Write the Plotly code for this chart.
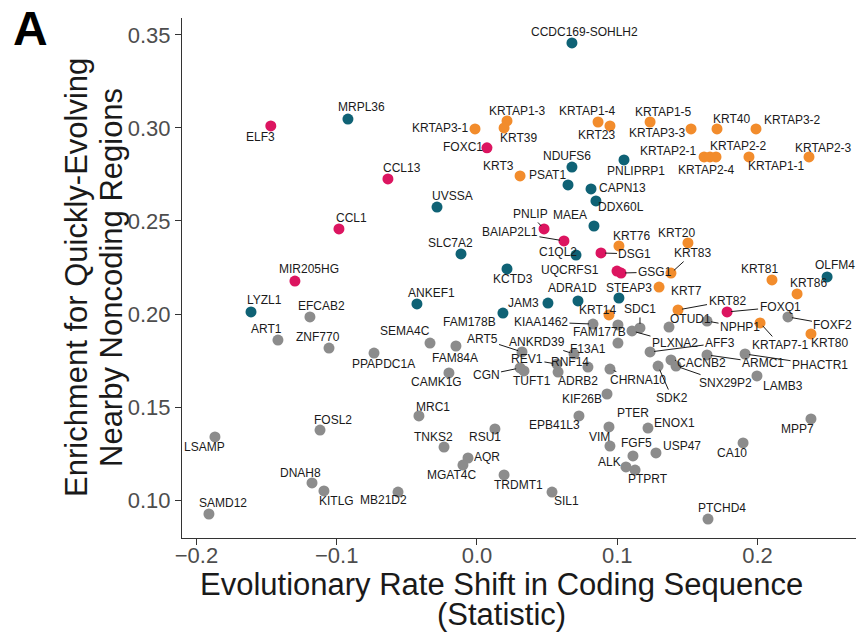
import plotly.graph_objects as go

# ---------------- data ----------------
genes_pink = ["ELF3", "CCL13", "CCL1", "MIR205HG", "FOXC1", "PNLIP", "BAIAP2L1",
              "DSG1", "UQCRFS1", "GSG1", "FOXQ1"]
x_pink = [-0.147, -0.0635, -0.0984, -0.1298, 0.0071, 0.0478, 0.0620,
          0.0884, 0.0998, 0.1027, 0.1783]
y_pink = [0.3011, 0.2726, 0.2457, 0.2177, 0.2893, 0.2457, 0.2393,
          0.2328, 0.2231, 0.2220, 0.2011]

genes_teal = ["MRPL36", "CCDC169-SOHLH2", "NDUFS6", "PNLIPRP1", "PSAT1", "CAPN13",
              "DDX60L", "UVSSA", "MAEA", "C1QL2", "SLC7A2", "KCTD3", "ANKEF1",
              "JAM3", "ADRA1D", "STEAP3", "FAM178B", "LYZL1", "OLFM4"]
x_teal = [-0.0920, 0.0677, 0.0677, 0.1048, 0.0649, 0.0813,
          0.0848, -0.0285, 0.0834, 0.0706, -0.0114, 0.0214, -0.0428,
          0.0506, 0.0720, 0.1012, 0.0185, -0.1611, 0.2496]
y_teal = [0.3048, 0.3457, 0.2790, 0.2828, 0.2694, 0.2672,
          0.2608, 0.2575, 0.2473, 0.2317, 0.2323, 0.2242, 0.2054,
          0.2059, 0.2070, 0.2086, 0.2005, 0.2011, 0.2199]

genes_orange = ["KRTAP3-1", "KRTAP1-3", "KRT39", "KRTAP1-4", "KRT23", "KRT3",
                "KRTAP1-5", "KRTAP3-3", "KRT40", "KRTAP3-2", "KRTAP2-1", "KRTAP2-4",
                "KRTAP2-2", "KRTAP1-1", "KRTAP2-3", "KRT20", "KRT76", "KRT83",
                "KRT81", "KRT86", "KRT7", "KRT14", "KRT82", "KRTAP7-1", "KRT80"]
x_orange = [-0.0014, 0.0214, 0.0193, 0.0863, 0.0948, 0.0307,
            0.1234, 0.1526, 0.1711, 0.1989, 0.1619, 0.1661,
            0.1704, 0.1939, 0.2367, 0.1504, 0.1012, 0.1383,
            0.2103, 0.2282, 0.1298, 0.0941, 0.1433, 0.2018, 0.2381]
y_orange = [0.2995, 0.3038, 0.3000, 0.3032, 0.3011, 0.2742,
            0.3032, 0.2995, 0.2995, 0.2995, 0.2844, 0.2844,
            0.2844, 0.2844, 0.2844, 0.2382, 0.2366, 0.2220,
            0.2183, 0.2108, 0.2145, 0.1995, 0.2022, 0.1952, 0.1893]

genes_gray = ["EFCAB2", "ART1", "ZNF770", "PPAPDC1A", "SEMA4C", "FAM84A", "CAMK1G",
              "MRC1", "FOSL2", "LSAMP", "DNAH8", "KITLG", "SAMD12", "MB21D2",
              "TNKS2", "RSU1", "AQR", "MGAT4C", "TRDMT1", "SIL1", "ART5", "ANKRD39",
              "REV1", "RNF14", "CGN", "TUFT1", "ADRB2", "CHRNA10", "F13A1",
              "KIAA1462", "FAM177B", "SDC1", "PLXNA2", "OTUD1", "NPHP1", "AFF3",
              "CACNB2", "ARMC1", "PHACTR1", "SNX29P2", "SDK2", "LAMB3", "KIF26B",
              "EPB41L3", "PTER", "VIM", "ENOX1", "FGF5", "USP47", "ALK", "PTPRT",
              "CA10", "MPP7", "PTCHD4", "FOXF2"]
x_gray = [-0.1191, -0.1419, -0.1055, -0.0734, -0.0335, -0.0150, -0.0200,
          -0.0414, -0.1119, -0.1868, -0.1176, -0.1091, -0.1911, -0.0563,
          -0.0235, 0.0128, -0.0064, -0.0100, 0.0193, 0.0535, 0.0321, 0.0692,
          0.0570, 0.0791, 0.0307, 0.0335, 0.0578, 0.0948, 0.1005,
          0.0827, 0.1005, 0.1162, 0.1105, 0.1369, 0.1640, 0.1234,
          0.1383, 0.1640, 0.1911, 0.1419, 0.1291, 0.1996, 0.0927,
          0.0727, 0.0941, 0.0948, 0.1219, 0.1112, 0.1276, 0.1062, 0.1127,
          0.1897, 0.2381, 0.1647, 0.2217]
y_gray = [0.1984, 0.1860, 0.1817, 0.1790, 0.1844, 0.1828, 0.1683,
          0.1452, 0.1376, 0.1339, 0.1092, 0.1049, 0.0925, 0.1043,
          0.1285, 0.1382, 0.1226, 0.1188, 0.1135, 0.1043, 0.1796, 0.1785,
          0.1731, 0.1715, 0.1710, 0.1694, 0.1688, 0.1704, 0.1844,
          0.1946, 0.1941, 0.1925, 0.1909, 0.1930, 0.1962, 0.1796,
          0.1753, 0.1780, 0.1785, 0.1720, 0.1720, 0.1667, 0.1570,
          0.1452, 0.1393, 0.1290, 0.1387, 0.1237, 0.1253, 0.1178, 0.1161,
          0.1307, 0.1436, 0.0898, 0.1984]

x_ticks = [-0.2, -0.1, 0.0, 0.1, 0.2]
y_ticks = [0.10, 0.15, 0.20, 0.25, 0.30, 0.35]

x_title = "Evolutionary Rate Shift in Coding Sequence"
x_title2 = "(Statistic)"
y_title = "Enrichment for Quickly-Evolving"
y_title2 = "Nearby Noncoding Regions"
panel_label = "A"

# ---------------- label placement (pixel offsets, segment flag) ----------------
label_offsets = {
    "ELF3": (-10, 11, 0), "CCL13": (14, -11, 0), "CCL1": (13, -11, 0),
    "MIR205HG": (14, -12, 0), "FOXC1": (-24, -1, 0), "PNLIP": (-14, -15, 1),
    "BAIAP2L1": (-54, -9, 1), "DSG1": (34, 1, 1), "UQCRFS1": (-47, -1, 0),
    "GSG1": (34, -1, 1), "FOXQ1": (53, -5, 1),
    "MRPL36": (14, -12, 0), "CCDC169-SOHLH2": (13, -11, 0), "NDUFS6": (-5, -11, 0),
    "PNLIPRP1": (12, 11, 0), "PSAT1": (-21, -10, 0), "CAPN13": (31, -1, 0),
    "DDX60L": (25, 6, 0), "UVSSA": (15, -11, 0), "MAEA": (-24, -11, 0),
    "C1QL2": (-18, -3, 0), "SLC7A2": (-11, -11, 0), "KCTD3": (6, 10, 0),
    "ANKEF1": (15, -11, 0), "JAM3": (-24, 0, 0), "ADRA1D": (-5, -13, 0),
    "STEAP3": (10, -10, 0), "FAM178B": (-33, 9, 0), "LYZL1": (13, -12, 0),
    "OLFM4": (8, -12, 0),
    "KRTAP3-1": (-35, -1, 0), "KRTAP1-3": (10, -10, 0), "KRT39": (14, 10, 0),
    "KRTAP1-4": (-11, -11, 0), "KRT23": (-13, 9, 0), "KRT3": (-22, -10, 0),
    "KRTAP1-5": (13, -10, 0), "KRTAP3-3": (-34, 4, 0), "KRT40": (15, -10, 0),
    "KRTAP3-2": (37, -9, 0), "KRTAP2-1": (-36, -6, 0), "KRTAP2-4": (-3, 13, 0),
    "KRTAP2-2": (22, -11, 0), "KRTAP1-1": (28, 9, 0), "KRTAP2-3": (14, -9, 0),
    "KRT20": (-11, -10, 0), "KRT76": (13, -10, 0), "KRT83": (22, -20, 1),
    "KRT81": (-12, -11, 0), "KRT86": (11, -11, 0), "KRT7": (27, 4, 0),
    "KRT14": (-11, -5, 0), "KRT82": (49, -9, 1), "KRTAP7-1": (20, 22, 1),
    "KRT80": (19, 9, 0),
    "EFCAB2": (12, -11, 0), "ART1": (-11, -11, 0), "ZNF770": (-11, -11, 0),
    "PPAPDC1A": (9, 11, 0), "SEMA4C": (-25, -12, 0), "FAM84A": (-1, 12, 0),
    "CAMK1G": (-12, 9, 0), "MRC1": (14, -9, 0), "FOSL2": (13, -10, 0),
    "LSAMP": (-10, 10, 0), "DNAH8": (-12, -10, 0), "KITLG": (13, 10, 0),
    "SAMD12": (14, -11, 0), "MB21D2": (-15, 8, 0), "TNKS2": (-11, -10, 0),
    "RSU1": (-10, 8, 0), "AQR": (19, -1, 0), "MGAT4C": (-11, 10, 0),
    "TRDMT1": (14, 10, 0), "SIL1": (14, 9, 0), "ART5": (-40, -13, 1),
    "ANKRD39": (-37, -12, 1), "REV1": (-30, -5, 1), "RNF14": (-18, -5, 0),
    "CGN": (-34, 7, 1), "TUFT1": (8, 10, 0), "ADRB2": (20, 9, 1),
    "CHRNA10": (28, 11, 1), "F13A1": (-30, 6, 0), "KIAA1462": (-52, -2, 1),
    "FAM177B": (-18, 7, 0), "SDC1": (0, -19, 1), "PLXNA2": (43, 12, 1),
    "OTUD1": (21, -8, 0), "NPHP1": (33, 6, 1), "AFF3": (70, -9, 1),
    "CACNB2": (31, 3, 1), "ARMC1": (56, 8, 1), "PHACTR1": (75, 11, 1),
    "SNX29P2": (49, 17, 1), "SDK2": (14, 32, 1), "LAMB3": (26, 10, 0),
    "KIF26B": (-25, 5, 0), "EPB41L3": (-24, 9, 0), "PTER": (24, -14, 0),
    "VIM": (-10, -9, 0), "ENOX1": (27, -5, 0), "FGF5": (4, -13, 0),
    "USP47": (26, -7, 0), "ALK": (-16, -5, 0), "PTPRT": (13, 9, 0),
    "CA10": (-11, 10, 0), "MPP7": (-13, 10, 0), "PTCHD4": (14, -11, 0),
    "FOXF2": (45, 8, 1),
}

COL_GRAY = "#8c8c8c"
COL_TEAL = "#0f6275"
COL_ORANGE = "#f28c2c"
COL_PINK = "#dc1560"
FONT = "Liberation Sans, Arial, Helvetica, sans-serif"

W, H = 858, 638
ML, MR, MT, MB = 182, 2, 18, 100
PW, PH = W - ML - MR, H - MT - MB


def px(xp):
    return (xp - ML) / PW


def py(yp):
    return (H - MB - yp) / PH


fig = go.Figure()
groups = [
    (genes_gray, x_gray, y_gray, COL_GRAY),
    (genes_teal, x_teal, y_teal, COL_TEAL),
    (genes_orange, x_orange, y_orange, COL_ORANGE),
    (genes_pink, x_pink, y_pink, COL_PINK),
]
annotations = []
for names, xs, ys, col in groups:
    fig.add_trace(go.Scatter(
        x=xs, y=ys, mode="markers", text=names, hoverinfo="text",
        marker=dict(size=11, color=col, line=dict(width=0)),
        showlegend=False,
    ))
    for n, xv, yv in zip(names, xs, ys):
        dx, dy, seg = label_offsets[n]
        annotations.append(dict(
            x=xv, y=yv, xref="x", yref="y", text=n,
            showarrow=True, ax=dx, ay=dy, arrowhead=0, arrowwidth=1,
            arrowcolor="#1a1a1a" if seg else "rgba(0,0,0,0)", standoff=4,
            font=dict(family=FONT, size=12, color="#1a1a1a"),
        ))

TITLE_FONT = dict(family=FONT, size=31, color="#1a1a1a")
annotations += [
    dict(x=px(501), y=py(584), xref="paper", yref="paper", text=x_title,
         showarrow=False, xanchor="center", yanchor="middle", font=TITLE_FONT),
    dict(x=px(501), y=py(614), xref="paper", yref="paper", text=x_title2,
         showarrow=False, xanchor="center", yanchor="middle", font=TITLE_FONT),
    dict(x=px(76), y=py(278), xref="paper", yref="paper", text=y_title,
         showarrow=False, xanchor="center", yanchor="middle", textangle=-90,
         font=TITLE_FONT),
    dict(x=px(111), y=py(278), xref="paper", yref="paper", text=y_title2,
         showarrow=False, xanchor="center", yanchor="middle", textangle=-90,
         font=TITLE_FONT),
    dict(x=px(11), y=py(28), xref="paper", yref="paper", text="<b>%s</b>" % panel_label,
         showarrow=False, xanchor="left", yanchor="middle",
         font=dict(family=FONT, size=48, color="black")),
]

fig.update_layout(
    width=W, height=H,
    margin=dict(l=ML, r=MR, t=MT, b=MB, autoexpand=False),
    paper_bgcolor="white", plot_bgcolor="white",
    font=dict(family=FONT),
    annotations=annotations,
    xaxis=dict(
        range=[-0.2103, 0.2702], tickvals=x_ticks,
        ticktext=[("\u2212" if v < 0 else "") + f"{abs(v):.1f}" for v in x_ticks],
        showgrid=False, zeroline=False, showline=True, linecolor="#333333", linewidth=1.2,
        ticks="outside", ticklen=6, tickcolor="#333333", tickwidth=1.2,
        tickfont=dict(size=22, color="#4d4d4d", family=FONT), automargin=False,
        ticklabelstandoff=-9,
    ),
    yaxis=dict(
        range=[0.0796, 0.3591], tickvals=y_ticks,
        ticktext=[f"{v:.2f}" for v in y_ticks],
        showgrid=False, zeroline=False, showline=True, linecolor="#333333", linewidth=1.2,
        ticks="outside", ticklen=6, tickcolor="#333333", tickwidth=1.2,
        tickfont=dict(size=22, color="#4d4d4d", family=FONT), automargin=False,
    ),
)
fig.write_html("out.html", config={"displayModeBar": False},
               post_script="document.body.style.margin='0px';")
